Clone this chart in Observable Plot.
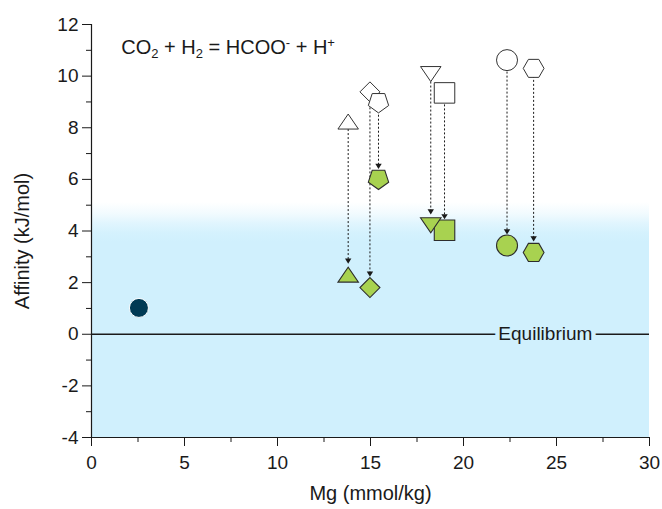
<!DOCTYPE html>
<html>
<head>
<meta charset="utf-8">
<script src="https://cdn.jsdelivr.net/npm/d3@7"></script>
<script src="https://cdn.jsdelivr.net/npm/@observablehq/plot@0.6"></script>
<style>
  html, body { margin: 0; padding: 0; background: #ffffff; }
  #chart { width: 662px; height: 509px; }
</style>
</head>
<body>
<div id="chart"></div>
<script>
// ---- data ----
const samples = ["s1", "s2", "s3", "s4", "s5", "s6", "s7"];
const mg = [13.8, 14.97, 15.43, 18.24, 18.98, 22.34, 23.77];
const affinityInitial = [8.24, 9.39, 8.95, 10.08, 9.35, 10.62, 10.3];
const affinityFinal = [2.31, 1.81, 5.98, 4.22, 4.03, 3.44, 3.17];
const endMemberMg = [2.55];
const endMemberAffinity = [1.02];
const xTicks = [0, 5, 10, 15, 20, 25, 30];
const xMinorTicks = [2.5, 7.5, 12.5, 17.5, 22.5, 27.5];
const yTicks = [-4, -2, 0, 2, 4, 6, 8, 10, 12];
const yMinorTicks = [-3, -1, 1, 3, 5, 7, 9, 11];
const equilibriumLabel = "Equilibrium";
const reactionLabel = "CO2 + H2 = HCOO- + H+";
const xLabel = "Mg (mmol/kg)";
const yLabel = "Affinity (kJ/mol)";
const bandTop = 5.1;

// ---- build table ----
const rows = samples.map((s, i) => ({sample: s, mg: mg[i], a0: affinityInitial[i], a1: affinityFinal[i], i}));
const endMember = endMemberMg.map((m, i) => ({mg: m, a: endMemberAffinity[i]}));

// ---- symbols (style) ----
function poly(pts) {
  return {draw(ctx, size) {
    const s = Math.sqrt(size / Math.PI) / 10;
    pts.forEach(([x, y], k) => k ? ctx.lineTo(x * s, y * s) : ctx.moveTo(x * s, y * s));
    ctx.closePath();
  }};
}
function regular(n, R, startDeg) {
  const pts = [];
  for (let k = 0; k < n; k++) {
    const a = (startDeg + 360 * k / n) * Math.PI / 180;
    pts.push([R * Math.cos(a), R * Math.sin(a)]);
  }
  const ys = pts.map(p => p[1]);
  const c = (Math.min(...ys) + Math.max(...ys)) / 2;
  return pts.map(([x, y]) => [x, y - c]);
}
const triUp = poly([[-10.25, 7.5], [10.25, 7.5], [0, -7.5]]);
const triDown = poly([[-10.25, -7.5], [10.25, -7.5], [0, 7.5]]);
const square = poly([[-10.25, -10.25], [10.25, -10.25], [10.25, 10.25], [-10.25, 10.25]]);
const diamond = poly([[0, -10], [10, 0], [0, 10], [-10, 0]]);
const pentagon = poly(regular(5, 10.7, 90));
const hexagon = poly(regular(6, 10.4, 0));
const circle = {draw(ctx, size) { const r = Math.sqrt(size / Math.PI) * 1.05; ctx.moveTo(r, 0); ctx.arc(0, 0, r, 0, 2 * Math.PI); }};
const arrowHead = poly([[-3.2, -2.6], [3.2, -2.6], [0, 2.6]]);
const shapes = [triUp, diamond, pentagon, triDown, square, circle, hexagon];
const greenOrder = [0, 1, 2, 4, 3, 5, 6];

const blue = "#d0f0fd";
const green = "#a8d250";
const ink = "#1a1a1a";
const font = "'Liberation Sans', Arial, sans-serif";

const marks = [
  Plot.rect([0], {x1: 0, x2: 30, y1: -4, y2: bandTop, fill: "url(#blueFade)"}),
  Plot.ruleY([0], {x1: 0, x2: 30, stroke: ink, strokeWidth: 1.3}),
  Plot.text([equilibriumLabel], {x: 24.4, y: 0, text: d => d, fill: ink, stroke: blue, strokeWidth: 9, fontSize: 19}),
  Plot.ruleX(rows, {x: "mg", y1: "a0", y2: "a1", insetBottom: 13, stroke: ink, strokeWidth: 1, strokeDasharray: "2,2"}),
  Plot.dot(rows, {x: "mg", y: "a1", symbol: arrowHead, r: 10, dy: -13.5, fill: ink, stroke: "none"}),
  ...rows.map(d => Plot.dot([d], {x: "mg", y: "a0", symbol: shapes[d.i], r: 10, fill: "white", stroke: "#333", strokeWidth: 1})),
  ...greenOrder.map(i => Plot.dot([rows[i]], {x: "mg", y: "a1", symbol: shapes[i], r: 10, fill: green, stroke: "#2d2d2d", strokeWidth: 1.1})),
  Plot.dot(endMember, {x: "mg", y: "a", r: 9.5, fill: "#003a54", stroke: "white", strokeWidth: 1}),
  Plot.text([reactionLabel], {x: 1.6, y: 11.1, text: d => d, textAnchor: "start", fontSize: 20, fill: ink}),
  Plot.axisX({ticks: xTicks, tickSize: 9, tickPadding: 9, tickFormat: d => String(d), label: null, fontSize: 19}),
  Plot.axisX({ticks: xMinorTicks, tickSize: 5, tickFormat: () => "", label: null}),
  Plot.axisY({ticks: yTicks, tickSize: 9, tickPadding: 4, tickFormat: d => String(d), label: null, fontSize: 19}),
  Plot.axisY({ticks: yMinorTicks, tickSize: 5, tickFormat: () => "", label: null}),
  Plot.ruleY([-4], {stroke: ink, strokeWidth: 1.2}),
  Plot.ruleX([0], {stroke: ink, strokeWidth: 1.2}),
  Plot.text([xLabel], {frameAnchor: "bottom", text: d => d, textAnchor: "middle", lineAnchor: "middle", dy: 56, fontSize: 20, fill: ink}),
  Plot.text([yLabel], {frameAnchor: "left", text: d => d, textAnchor: "middle", lineAnchor: "middle", dx: -69, dy: 10, rotate: -90, fontSize: 20, fill: ink})
];

const chart = Plot.plot({
  width: 662,
  height: 509,
  marginLeft: 91,
  marginRight: 13,
  marginTop: 24,
  marginBottom: 72,
  x: {domain: [0, 30]},
  y: {domain: [-4, 12]},
  style: {fontFamily: font, fontSize: "19px", color: ink, background: "white"},
  marks
});

const svg = d3.select(chart);
svg.selectAll('g[aria-label="x-axis tick label"], g[aria-label="y-axis tick label"]')
  .style("font-size", "19px").style("font-family", font);

// gradient definition for the shaded band
svg.insert("defs", ":first-child").html(
  `<linearGradient id="blueFade" x1="0" y1="0" x2="0" y2="1">
     <stop offset="0" stop-color="${blue}" stop-opacity="0"/>
     <stop offset="0.05" stop-color="${blue}" stop-opacity="0.3"/>
     <stop offset="0.09" stop-color="${blue}" stop-opacity="0.65"/>
     <stop offset="0.13" stop-color="${blue}" stop-opacity="0.9"/>
     <stop offset="0.17" stop-color="${blue}" stop-opacity="1"/>
     <stop offset="1" stop-color="${blue}" stop-opacity="1"/>
   </linearGradient>`);

// sub/superscripts in the reaction label
svg.selectAll("text").filter(function() { return this.textContent === reactionLabel; }).each(function() {
  const t = d3.select(this);
  t.text(null);
  const parts = [["CO", 0], ["2", 1], [" + H", 0], ["2", 1], [" = HCOO", 0], ["-", 2], [" + H", 0], ["+", 2]];
  parts.forEach(([s, k]) => {
    const ts = t.append("tspan").text(s);
    if (k === 1) ts.attr("font-size", 13).attr("baseline-shift", "-4");
    if (k === 2) ts.attr("font-size", 13).attr("baseline-shift", "7");
  });
});

document.getElementById("chart").appendChild(chart);
</script>
</body>
</html>
